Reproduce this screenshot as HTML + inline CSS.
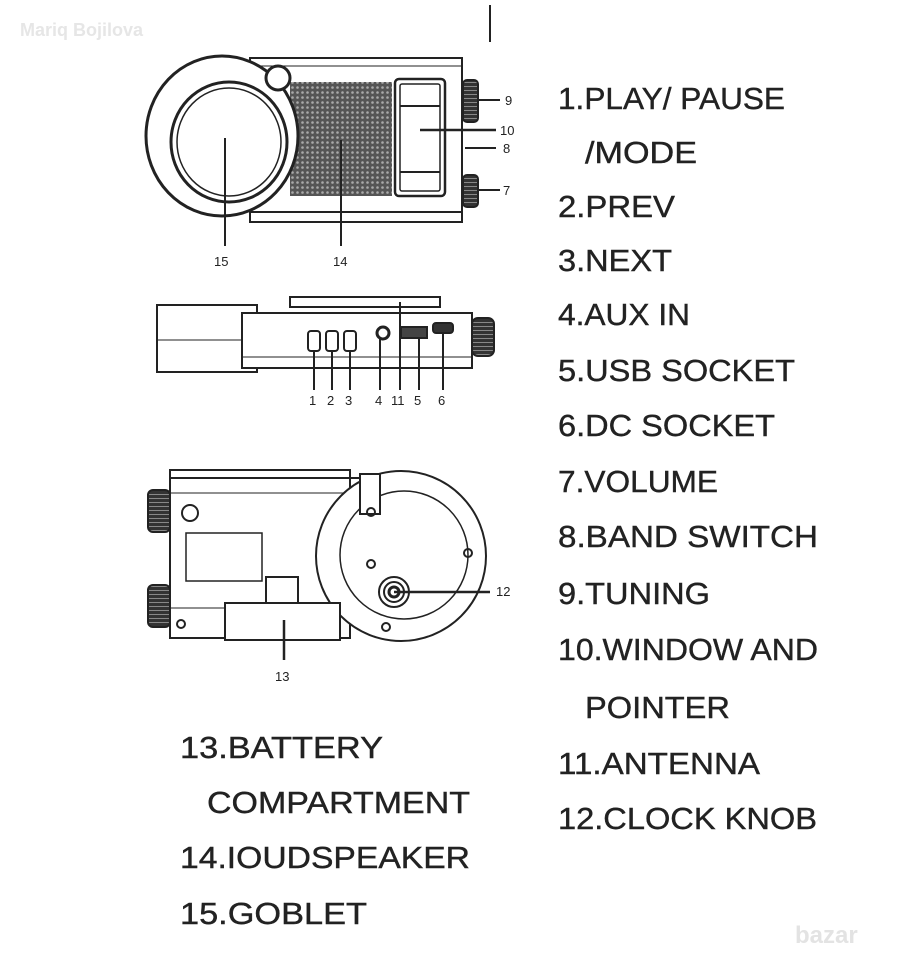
<!DOCTYPE html>
<html><head><meta charset="utf-8"><style>html,body{margin:0;padding:0;background:#fff}svg{display:block}</style></head><body>
<svg width="902" height="960" viewBox="0 0 902 960" xmlns="http://www.w3.org/2000/svg">
<defs>
<pattern id="dots" width="5" height="5" patternUnits="userSpaceOnUse"><rect width="5" height="5" fill="#555"/><circle cx="2.5" cy="2.5" r="1.3" fill="#aaa"/></pattern>
<pattern id="knurl" width="4" height="4" patternUnits="userSpaceOnUse"><rect width="4" height="4" fill="#333"/><rect y="2" width="4" height="1" fill="#888"/></pattern>
</defs>
<text x="20" y="36" font-family="Liberation Sans, sans-serif" font-size="18" font-weight="bold" fill="#e6e6e6">Mariq Bojilova</text>
<line x1="490" y1="5" x2="490" y2="42" stroke="#222" stroke-width="2"/>
<g fill="none" stroke="#222" stroke-width="2">
<!-- top view -->
<rect x="250" y="58" width="212" height="164" fill="#fff"/>
<line x1="250" y1="212" x2="462" y2="212"/>
<line x1="250" y1="66" x2="462" y2="66" stroke-width="1"/>
<rect x="290" y="82" width="102" height="114" fill="url(#dots)" stroke="none"/>
<ellipse cx="222" cy="136" rx="76" ry="80" fill="#fff" stroke-width="3"/>
<ellipse cx="229" cy="142" rx="58" ry="60" fill="#fff" stroke-width="3"/>
<ellipse cx="229" cy="142" rx="52" ry="54" stroke-width="1.5"/>
<circle cx="278" cy="78" r="12" fill="#fff" stroke-width="3"/>
<rect x="395" y="79" width="50" height="117" rx="4" fill="#fff" stroke-width="2.5"/>
<rect x="400" y="84" width="40" height="107" rx="2" stroke-width="1.5"/>
<line x1="400" y1="106" x2="440" y2="106"/><line x1="400" y1="172" x2="440" y2="172"/>
<rect x="463" y="80" width="15" height="42" rx="4" fill="url(#knurl)"/>
<rect x="463" y="175" width="15" height="32" rx="4" fill="url(#knurl)"/>
<line x1="225" y1="138" x2="225" y2="246"/><line x1="341" y1="140" x2="341" y2="246"/>
<line x1="478" y1="100" x2="500" y2="100"/><line x1="420" y1="130" x2="496" y2="130" stroke-width="2.5"/>
<line x1="465" y1="148" x2="496" y2="148"/><line x1="478" y1="190" x2="500" y2="190"/>
<!-- side view -->
<rect x="290" y="297" width="150" height="10"/>
<rect x="157" y="305" width="100" height="67" fill="#fff"/>
<line x1="157" y1="340" x2="245" y2="340" stroke-width="1"/>
<rect x="242" y="313" width="230" height="55" fill="#fff"/>
<line x1="242" y1="357" x2="472" y2="357" stroke-width="1"/>
<rect x="472" y="318" width="22" height="38" rx="6" fill="url(#knurl)"/>
<rect x="308" y="331" width="12" height="20" rx="3"/><rect x="326" y="331" width="12" height="20" rx="3"/><rect x="344" y="331" width="12" height="20" rx="3"/>
<circle cx="383" cy="333" r="6" stroke-width="3"/>
<rect x="401" y="327" width="26" height="11" fill="#444"/>
<rect x="433" y="323" width="20" height="10" rx="3" fill="#333"/>
<line x1="314" y1="351" x2="314" y2="390"/><line x1="332" y1="351" x2="332" y2="390"/><line x1="350" y1="351" x2="350" y2="390"/>
<line x1="380" y1="339" x2="380" y2="390"/><line x1="400" y1="302" x2="400" y2="390"/><line x1="419" y1="338" x2="419" y2="390"/><line x1="443" y1="333" x2="443" y2="390"/>
<!-- bottom view -->
<rect x="170" y="470" width="180" height="168" fill="#fff"/>
<line x1="170" y1="478" x2="370" y2="478"/><line x1="170" y1="493" x2="360" y2="493" stroke-width="1"/>
<line x1="170" y1="608" x2="340" y2="608" stroke-width="1"/>
<circle cx="401" cy="556" r="85" fill="#fff"/>
<circle cx="404" cy="555" r="64" stroke-width="1.5"/>
<circle cx="394" cy="592" r="15"/><circle cx="394" cy="592" r="10"/><circle cx="394" cy="592" r="5" stroke-width="3"/>
<line x1="394" y1="592" x2="490" y2="592" stroke-width="2.5"/>
<rect x="360" y="474" width="20" height="40" fill="#fff"/>
<circle cx="190" cy="513" r="8"/>
<rect x="148" y="490" width="22" height="42" rx="5" fill="url(#knurl)"/>
<rect x="148" y="585" width="22" height="42" rx="5" fill="url(#knurl)"/>
<rect x="186" y="533" width="76" height="48" stroke-width="1.5"/>
<rect x="266" y="577" width="32" height="30" fill="#fff"/>
<rect x="225" y="603" width="115" height="37" fill="#fff"/>
<line x1="284" y1="620" x2="284" y2="660" stroke-width="2.5"/>
<circle cx="181" cy="624" r="4"/><circle cx="371" cy="564" r="4"/><circle cx="468" cy="553" r="4"/><circle cx="386" cy="627" r="4"/><circle cx="371" cy="512" r="4"/>
</g>
<g font-family="Liberation Sans, sans-serif" font-size="13" fill="#222">
<text x="505" y="105">9</text><text x="500" y="135">10</text><text x="503" y="153">8</text><text x="503" y="195">7</text>
<text x="214" y="266">15</text><text x="333" y="266">14</text>
<text x="309" y="405">1</text><text x="327" y="405">2</text><text x="345" y="405">3</text><text x="375" y="405">4</text><text x="391" y="405">11</text><text x="414" y="405">5</text><text x="438" y="405">6</text>
<text x="496" y="596">12</text><text x="275" y="681">13</text>
</g>
<g font-family="Liberation Sans, Arial, sans-serif" font-size="31" fill="#222" stroke="#222" stroke-width="0.4" lengthAdjust="spacingAndGlyphs">
<text x="558" y="109" textLength="227" lengthAdjust="spacingAndGlyphs">1.PLAY/ PAUSE</text>
<text x="585" y="163" textLength="112" lengthAdjust="spacingAndGlyphs">/MODE</text>
<text x="558" y="217" textLength="117" lengthAdjust="spacingAndGlyphs">2.PREV</text>
<text x="558" y="271" textLength="114" lengthAdjust="spacingAndGlyphs">3.NEXT</text>
<text x="558" y="325" textLength="132" lengthAdjust="spacingAndGlyphs">4.AUX IN</text>
<text x="558" y="381" textLength="237" lengthAdjust="spacingAndGlyphs">5.USB SOCKET</text>
<text x="558" y="436" textLength="217" lengthAdjust="spacingAndGlyphs">6.DC SOCKET</text>
<text x="558" y="492" textLength="160" lengthAdjust="spacingAndGlyphs">7.VOLUME</text>
<text x="558" y="547" textLength="260" lengthAdjust="spacingAndGlyphs">8.BAND SWITCH</text>
<text x="558" y="604" textLength="152" lengthAdjust="spacingAndGlyphs">9.TUNING</text>
<text x="558" y="660" textLength="260" lengthAdjust="spacingAndGlyphs">10.WINDOW AND</text>
<text x="585" y="718" textLength="145" lengthAdjust="spacingAndGlyphs">POINTER</text>
<text x="558" y="774" textLength="202" lengthAdjust="spacingAndGlyphs">11.ANTENNA</text>
<text x="558" y="829" textLength="259" lengthAdjust="spacingAndGlyphs">12.CLOCK KNOB</text>
<text x="180" y="758" textLength="203" lengthAdjust="spacingAndGlyphs">13.BATTERY</text>
<text x="207" y="813" textLength="263" lengthAdjust="spacingAndGlyphs">COMPARTMENT</text>
<text x="180" y="868" textLength="290" lengthAdjust="spacingAndGlyphs">14.IOUDSPEAKER</text>
<text x="180" y="924" textLength="187" lengthAdjust="spacingAndGlyphs">15.GOBLET</text>
</g>
<text x="795" y="943" font-family="Liberation Sans, sans-serif" font-size="24" font-weight="bold" fill="#e3e3e3">bazar</text>
</svg>
</body></html>
